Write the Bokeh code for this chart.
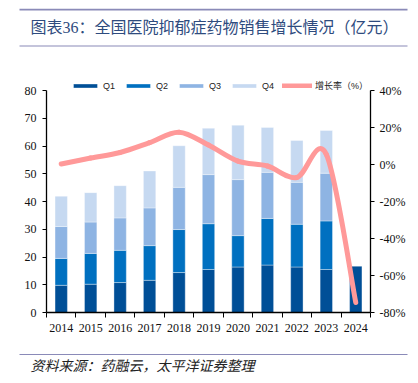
from bokeh.plotting import figure
from bokeh.layouts import column
from bokeh.models import (ColumnDataSource, Range1d, LinearAxis, FixedTicker, Legend, LegendItem,
                          PrintfTickFormatter, Label, BoxAnnotation)
from bokeh.embed import file_html
from bokeh.resources import INLINE

years = ["2014", "2015", "2016", "2017", "2018", "2019", "2020", "2021", "2022", "2023", "2024"]
q1 = [9.8, 10.2, 10.8, 11.6, 14.4, 15.5, 16.4, 17.1, 16.4, 15.5, 16.7]
q2 = [9.7, 11.1, 11.6, 12.5, 15.5, 16.5, 11.3, 16.8, 15.4, 17.5, float("nan")]
q3 = [11.5, 11.3, 11.7, 13.6, 15.2, 17.7, 20.2, 16.6, 15.1, 17.2, float("nan")]
q4 = [10.9, 10.6, 11.6, 13.3, 15.0, 16.7, 19.6, 16.2, 15.1, 15.4, float("nan")]
growth = [0.3, 3.5, 6.5, 11.8, 17.5, 10.5, 1.8, -0.8, -7.0, 5.5, -74.6]
left_ticks = [0, 10, 20, 30, 40, 50, 60, 70, 80]
right_ticks = [-80, -60, -40, -20, 0, 20, 40]

title_text = "图表36：全国医院抑郁症药物销售增长情况（亿元）"
source_text = "资料来源：药融云，太平洋证券整理"
title_color = "#2E4B7E"
rule_color = "#8A8AB8"
W = 402

def blank(h):
    f = figure(width=W, height=h, output_backend="svg", toolbar_location=None,
               x_range=Range1d(0, W), y_range=Range1d(0, h), frame_align=False,
               min_border_left=0, min_border_right=0, min_border_top=0, min_border_bottom=0)
    f.xaxis.visible = False
    f.yaxis.visible = False
    f.outline_line_color = None
    f.xgrid.visible = False
    f.ygrid.visible = False
    return f

def rule(f, y_top, thick):
    f.add_layout(BoxAnnotation(left=11, right=399, top=y_top, bottom=y_top - thick,
                               fill_color=rule_color, fill_alpha=1, line_color=None))

# ---- header ----
HH = 70
head = blank(HH)
rule(head, HH, 2)
rule(head, HH - 37, 1)
head.add_layout(Label(x=22, y=HH - 19, text=title_text,
                      text_font="Liberation Serif, Noto Sans CJK SC", text_font_size="16px",
                      text_color=title_color, text_baseline="middle"))

# ---- main chart ----
xs = list(range(len(years)))
src = ColumnDataSource(dict(x=xs, Q1=q1, Q2=q2, Q3=q3, Q4=q4))

FRAME_H = 233.7
AX_H = 221.7
top_l = left_ticks[0] + (left_ticks[-1] - left_ticks[0]) * FRAME_H / AX_H
top_r = right_ticks[0] + (right_ticks[-1] - right_ticks[0]) * FRAME_H / AX_H

p = figure(width=W, height=262, output_backend="svg", toolbar_location=None, frame_align=False,
           x_range=Range1d(-0.5, len(years) - 0.5), y_range=Range1d(left_ticks[0], top_l),
           min_border_left=38, min_border_right=40, min_border_top=0, min_border_bottom=28)
p.outline_line_color = None
p.xgrid.visible = False
p.ygrid.visible = False
p.extra_y_ranges = {"pct": Range1d(right_ticks[0], top_r)}

colors = ["#004F97", "#0070C0", "#8EB4E3", "#C6D9F1"]
bars = p.vbar_stack(["Q1", "Q2", "Q3", "Q4"], x="x", width=0.42, source=src,
                    color=colors, line_color="white", line_width=0.6, line_alpha=0.6)

n = len(growth)
def pt(i):
    i = max(0, min(n - 1, i))
    return xs[i], growth[i]
x0, y0, x1, y1, cx0, cy0, cx1, cy1 = [], [], [], [], [], [], [], []
for i in range(n - 1):
    pa, pb, pc, pd = pt(i - 1), pt(i), pt(i + 1), pt(i + 2)
    x0.append(pb[0]); y0.append(pb[1]); x1.append(pc[0]); y1.append(pc[1])
    cx0.append(pb[0] + (pc[0] - pa[0]) / 6); cy0.append(pb[1] + (pc[1] - pa[1]) / 6)
    cx1.append(pc[0] - (pd[0] - pb[0]) / 6); cy1.append(pc[1] - (pd[1] - pb[1]) / 6)
bz = p.bezier(x0=x0, y0=y0, x1=x1, y1=y1, cx0=cx0, cy0=cy0, cx1=cx1, cy1=cy1,
              line_color="#FF9999", line_width=5, line_cap="round", y_range_name="pct")

xa = p.xaxis[0]
xa.ticker = FixedTicker(ticks=xs, minor_ticks=[i - 0.5 for i in range(len(years) + 1)])
xa.major_label_overrides = {i: y for i, y in enumerate(years)}
xa.major_tick_out = 0
xa.major_tick_in = 0
xa.minor_tick_out = 5
xa.minor_tick_in = 0
xa.major_label_standoff = 6

ya = p.yaxis[0]
ya.ticker = FixedTicker(ticks=left_ticks)
ya.bounds = (left_ticks[0], left_ticks[-1])
ya.major_tick_out = 4
ya.major_tick_in = 0
ya.minor_tick_out = 0
ya.major_label_standoff = 6

ra = LinearAxis(y_range_name="pct", ticker=FixedTicker(ticks=right_ticks),
                formatter=PrintfTickFormatter(format="%d%%"), bounds=(right_ticks[0], right_ticks[-1]))
ra.major_tick_out = 4
ra.major_tick_in = 0
ra.minor_tick_out = 0
ra.major_label_standoff = 5
p.add_layout(ra, "right")

for ax in (xa, ya, ra):
    ax.axis_line_color = "black"
    ax.axis_line_width = 1.3
    ax.major_tick_line_color = "black"
    ax.minor_tick_line_color = "black"
    ax.major_label_text_font = "Liberation Serif"
    ax.major_label_text_font_size = "12px"
    ax.major_label_text_color = "#111111"

legend = Legend(items=[LegendItem(label=lab, renderers=[r]) for lab, r in zip(["Q1", "Q2", "Q3", "Q4"], bars)]
                + [LegendItem(label="增长率（%）", renderers=[bz])],
                location=(24, 220), orientation="horizontal",
                glyph_width=30, glyph_height=5, label_height=10, label_width=20, label_standoff=3, spacing=0,
                padding=0, margin=0, border_line_color=None, background_fill_alpha=0,
                label_text_font="Liberation Sans, Noto Sans CJK SC", label_text_font_size="9px",
                label_text_color="#222222")
p.add_layout(legend)

# ---- footer ----
FH = 35
foot = blank(FH)
rule(foot, FH - 13.5, 1)
foot.add_layout(Label(x=22, y=FH - 24, text=source_text,
                      text_font="Noto Sans CJK SC", text_font_size="14px", text_font_style="italic",
                      text_color="#222222", text_baseline="middle"))

layout = column(head, p, foot, spacing=0, margin=(8, 8, 8, 8))
open("out.html", "w").write(file_html(layout, INLINE))
